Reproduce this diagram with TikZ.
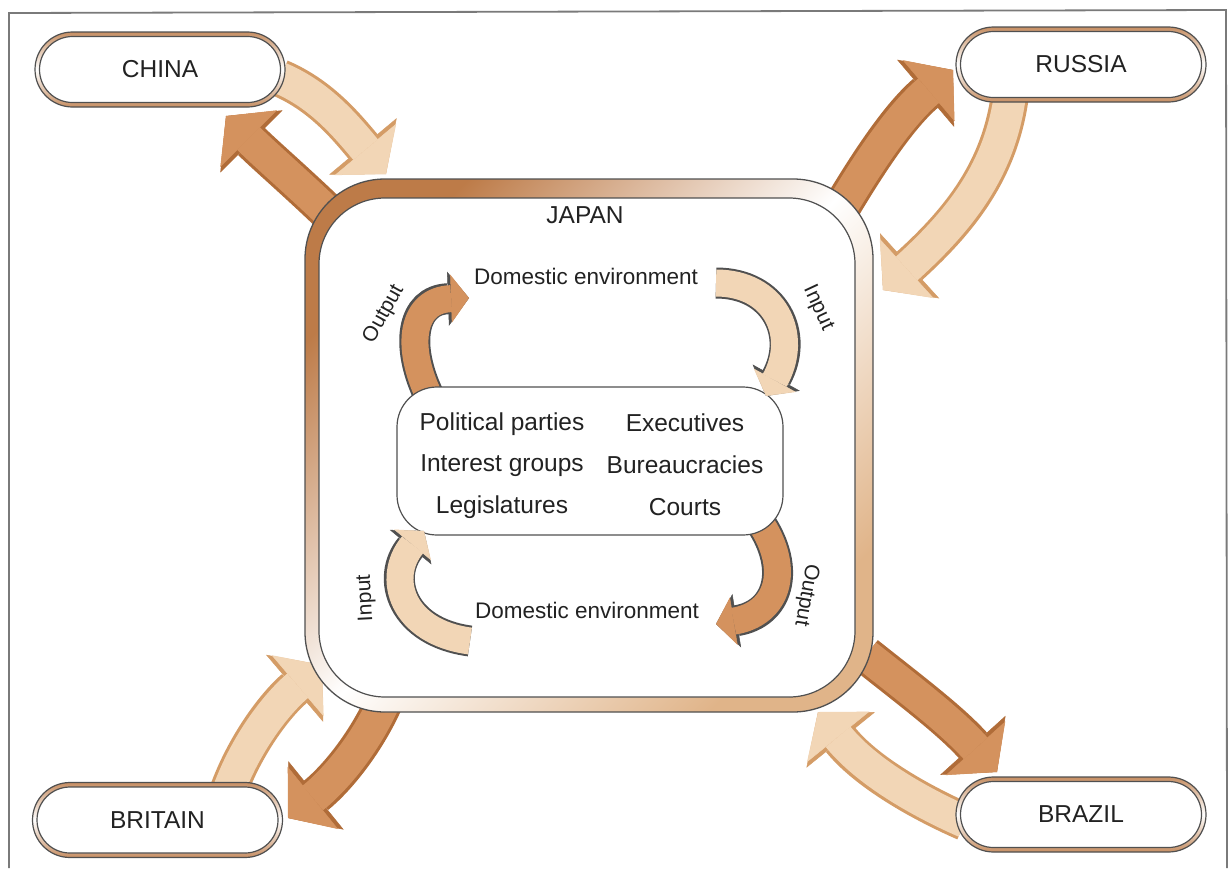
\documentclass[tikz,border=0pt]{standalone}
\usepackage{fontspec}
\setmainfont{Liberation Sans}
\usetikzlibrary{arrows.meta,shapes.misc}
\definecolor{darkarrow}{HTML}{D4925E}
\definecolor{darkedge}{HTML}{B06C38}
\definecolor{lightarrow}{HTML}{F2D6B6}
\definecolor{lightedge}{HTML}{D49C66}
\definecolor{framegray}{HTML}{7A7A7A}
\definecolor{linegray}{HTML}{505050}
\definecolor{bandbrown}{HTML}{BD7B48}
\definecolor{bandtan}{HTML}{E0B489}
\definecolor{textcol}{HTML}{222222}
\tikzset{
  bigedge/.style={line width=38pt, -{Triangle[length=36pt,width=88pt,line width=0.5pt]}},
  bigbody/.style={line width=32pt, -{Triangle[length=32pt,width=80pt,line width=0.5pt]}},
  smalledge/.style={line width=31pt, linegray, -{Triangle[length=21pt,width=54pt,line width=0.5pt]}},
  smallbody/.style={line width=27pt, -{Triangle[length=18pt,width=48pt,line width=0.5pt]}},
  pillout/.style={shape=rounded rectangle, draw=linegray, line width=1.2pt,
    top color=bandbrown!85, bottom color=bandbrown!85, middle color=white,
    minimum width=250pt, minimum height=75pt, inner sep=0pt},
  pillin/.style={shape=rounded rectangle, draw=linegray, line width=1.2pt, fill=white,
    minimum width=241pt, minimum height=66pt, inner sep=0pt, text=textcol,
    font=\fontsize{24.5pt}{29pt}\selectfont},
  boxtext/.style={text=textcol, inner sep=0pt, font=\fontsize{24.5pt}{29pt}\selectfont},
  envtext/.style={text=textcol, inner sep=0pt, font=\fontsize{22.5pt}{27pt}\selectfont},
  lab/.style={text=textcol, inner sep=0pt, font=\fontsize{21pt}{25pt}\selectfont}
}
\begin{document}
\begin{tikzpicture}[x=1pt,y=-1pt]
\useasboundingbox (0,0) rectangle (1232,868);
\fill[white] (0,0) rectangle (1232,868);
% frame
\draw[framegray, line width=1.8pt] (9,868) -- (9,13) -- (1226,10) -- (1227,868);

% arrow end points
\coordinate (cLs) at (280,78);   \coordinate (cLe) at (386,174);
\coordinate (cDs) at (338,222);  \coordinate (cDe) at (226,116);
\coordinate (rDs) at (843,205);  \coordinate (rDe) at (953,70);
\coordinate (rLs) at (1010,95);  \coordinate (rLe) at (883,290);
\coordinate (bLs) at (228,792);  \coordinate (bLe) at (322,665);
\coordinate (bDs) at (385,700);  \coordinate (bDe) at (288,818);
\coordinate (zDs) at (866,655);  \coordinate (zDe) at (997,772);
\coordinate (zLs) at (965,822);  \coordinate (zLe) at (818,712);

% outer arrows: China
\draw[bigedge, lightedge] (cLs) .. controls (320,95) and (345,125) .. (cLe);
\draw[bigbody, lightarrow] (cLs) .. controls (320,95) and (345,125) .. (cLe);
\draw[bigedge, darkedge] (cDs) .. controls (300,185) and (265,155) .. (cDe);
\draw[bigbody, darkarrow] (cDs) .. controls (300,185) and (265,155) .. (cDe);
% Russia
\draw[bigedge, darkedge] (rDs) .. controls (870,160) and (900,115) .. (rDe);
\draw[bigbody, darkarrow] (rDs) .. controls (870,160) and (900,115) .. (rDe);
\draw[bigedge, lightedge] (rLs) .. controls (1000,170) and (960,220) .. (rLe);
\draw[bigbody, lightarrow] (rLs) .. controls (1000,170) and (960,220) .. (rLe);
% Britain
\draw[bigedge, lightedge] (bLs) .. controls (245,745) and (275,705) .. (bLe);
\draw[bigbody, lightarrow] (bLs) .. controls (245,745) and (275,705) .. (bLe);
\draw[bigedge, darkedge] (bDs) .. controls (365,745) and (335,780) .. (bDe);
\draw[bigbody, darkarrow] (bDs) .. controls (365,745) and (335,780) .. (bDe);
% Brazil
\draw[bigedge, darkedge] (zDs) .. controls (910,690) and (950,720) .. (zDe);
\draw[bigbody, darkarrow] (zDs) .. controls (910,690) and (950,720) .. (zDe);
\draw[bigedge, lightedge] (zLs) .. controls (915,800) and (865,770) .. (zLe);
\draw[bigbody, lightarrow] (zLs) .. controls (915,800) and (865,770) .. (zLe);

% Japan box
\node[draw=linegray, line width=1.3pt, rounded corners=80pt, minimum width=568pt,
  minimum height=533pt, inner sep=0pt, top color=bandbrown, bottom color=bandtan,
  middle color=white, shading angle=45] (japan) at (589,445.5) {};
\node[draw=linegray, line width=1.2pt, fill=white, rounded corners=66pt,
  minimum width=536pt, minimum height=499pt, inner sep=0pt] (japanIn) at (587,447.5) {};
\node[boxtext] (japanLabel) at (585,215) {JAPAN};

% inner output arrows (under the central box)
\coordinate (oTs) at (430,398); \coordinate (oTe) at (469,298);
\coordinate (oBs) at (760,522); \coordinate (oBe) at (716,624);
\draw[smalledge] (oTs) .. controls (404,345) and (412,300) .. (oTe);
\draw[smallbody, darkarrow] (oTs) .. controls (404,345) and (412,300) .. (oTe);
\draw[smalledge] (oBs) .. controls (792,570) and (778,614) .. (oBe);
\draw[smallbody, darkarrow] (oBs) .. controls (792,570) and (778,614) .. (oBe);

% central box
\node[draw=linegray, line width=1.2pt, fill=white, rounded corners=40pt,
  minimum width=386pt, minimum height=148pt, inner sep=0pt] (system) at (590,461) {};

% inner input arrows
\coordinate (iTs) at (716,283); \coordinate (iTe) at (766,396);
\coordinate (iBs) at (470,641); \coordinate (iBe) at (424,531);
\draw[smalledge] (iTs) .. controls (775,283) and (800,335) .. (iTe);
\draw[smallbody, lightarrow] (iTs) .. controls (775,283) and (800,335) .. (iTe);
\draw[smalledge] (iBs) .. controls (402,632) and (385,578) .. (iBe);
\draw[smallbody, lightarrow] (iBs) .. controls (402,632) and (385,578) .. (iBe);

% texts
\node[boxtext] (pp) at (502,424) {Political parties};
\node[boxtext] (ex) at (685,423) {Executives};
\node[boxtext] (ig) at (502,466) {Interest groups};
\node[boxtext] (bu) at (685,465) {Bureaucracies};
\node[boxtext] (le) at (502,507) {Legislatures};
\node[boxtext] (co) at (685,507) {Courts};
\node[envtext] (envTop) at (586,276) {Domestic environment};
\node[envtext] (envBot) at (587,610) {Domestic environment};
\node[lab, rotate=61] (outTL) at (384,314) {Output};
\node[lab, rotate=-65] (inTR) at (818,308) {Input};
\node[lab, rotate=93] (inBL) at (366,598) {Input};
\node[lab, rotate=-100] (outBR) at (806,595) {Output};

% country pills
\node[pillout] (china) at (160,69.5) {};
\node[pillin] (chinaLabel) at (china) {CHINA};
\node[pillout] (russia) at (1081,64.5) {};
\node[pillin] (russiaLabel) at (russia) {RUSSIA};
\node[pillout] (britain) at (157.5,820) {};
\node[pillin] (britainLabel) at (britain) {BRITAIN};
\node[pillout] (brazil) at (1081,814.5) {};
\node[pillin] (brazilLabel) at (brazil) {BRAZIL};
\end{tikzpicture}
\end{document}
